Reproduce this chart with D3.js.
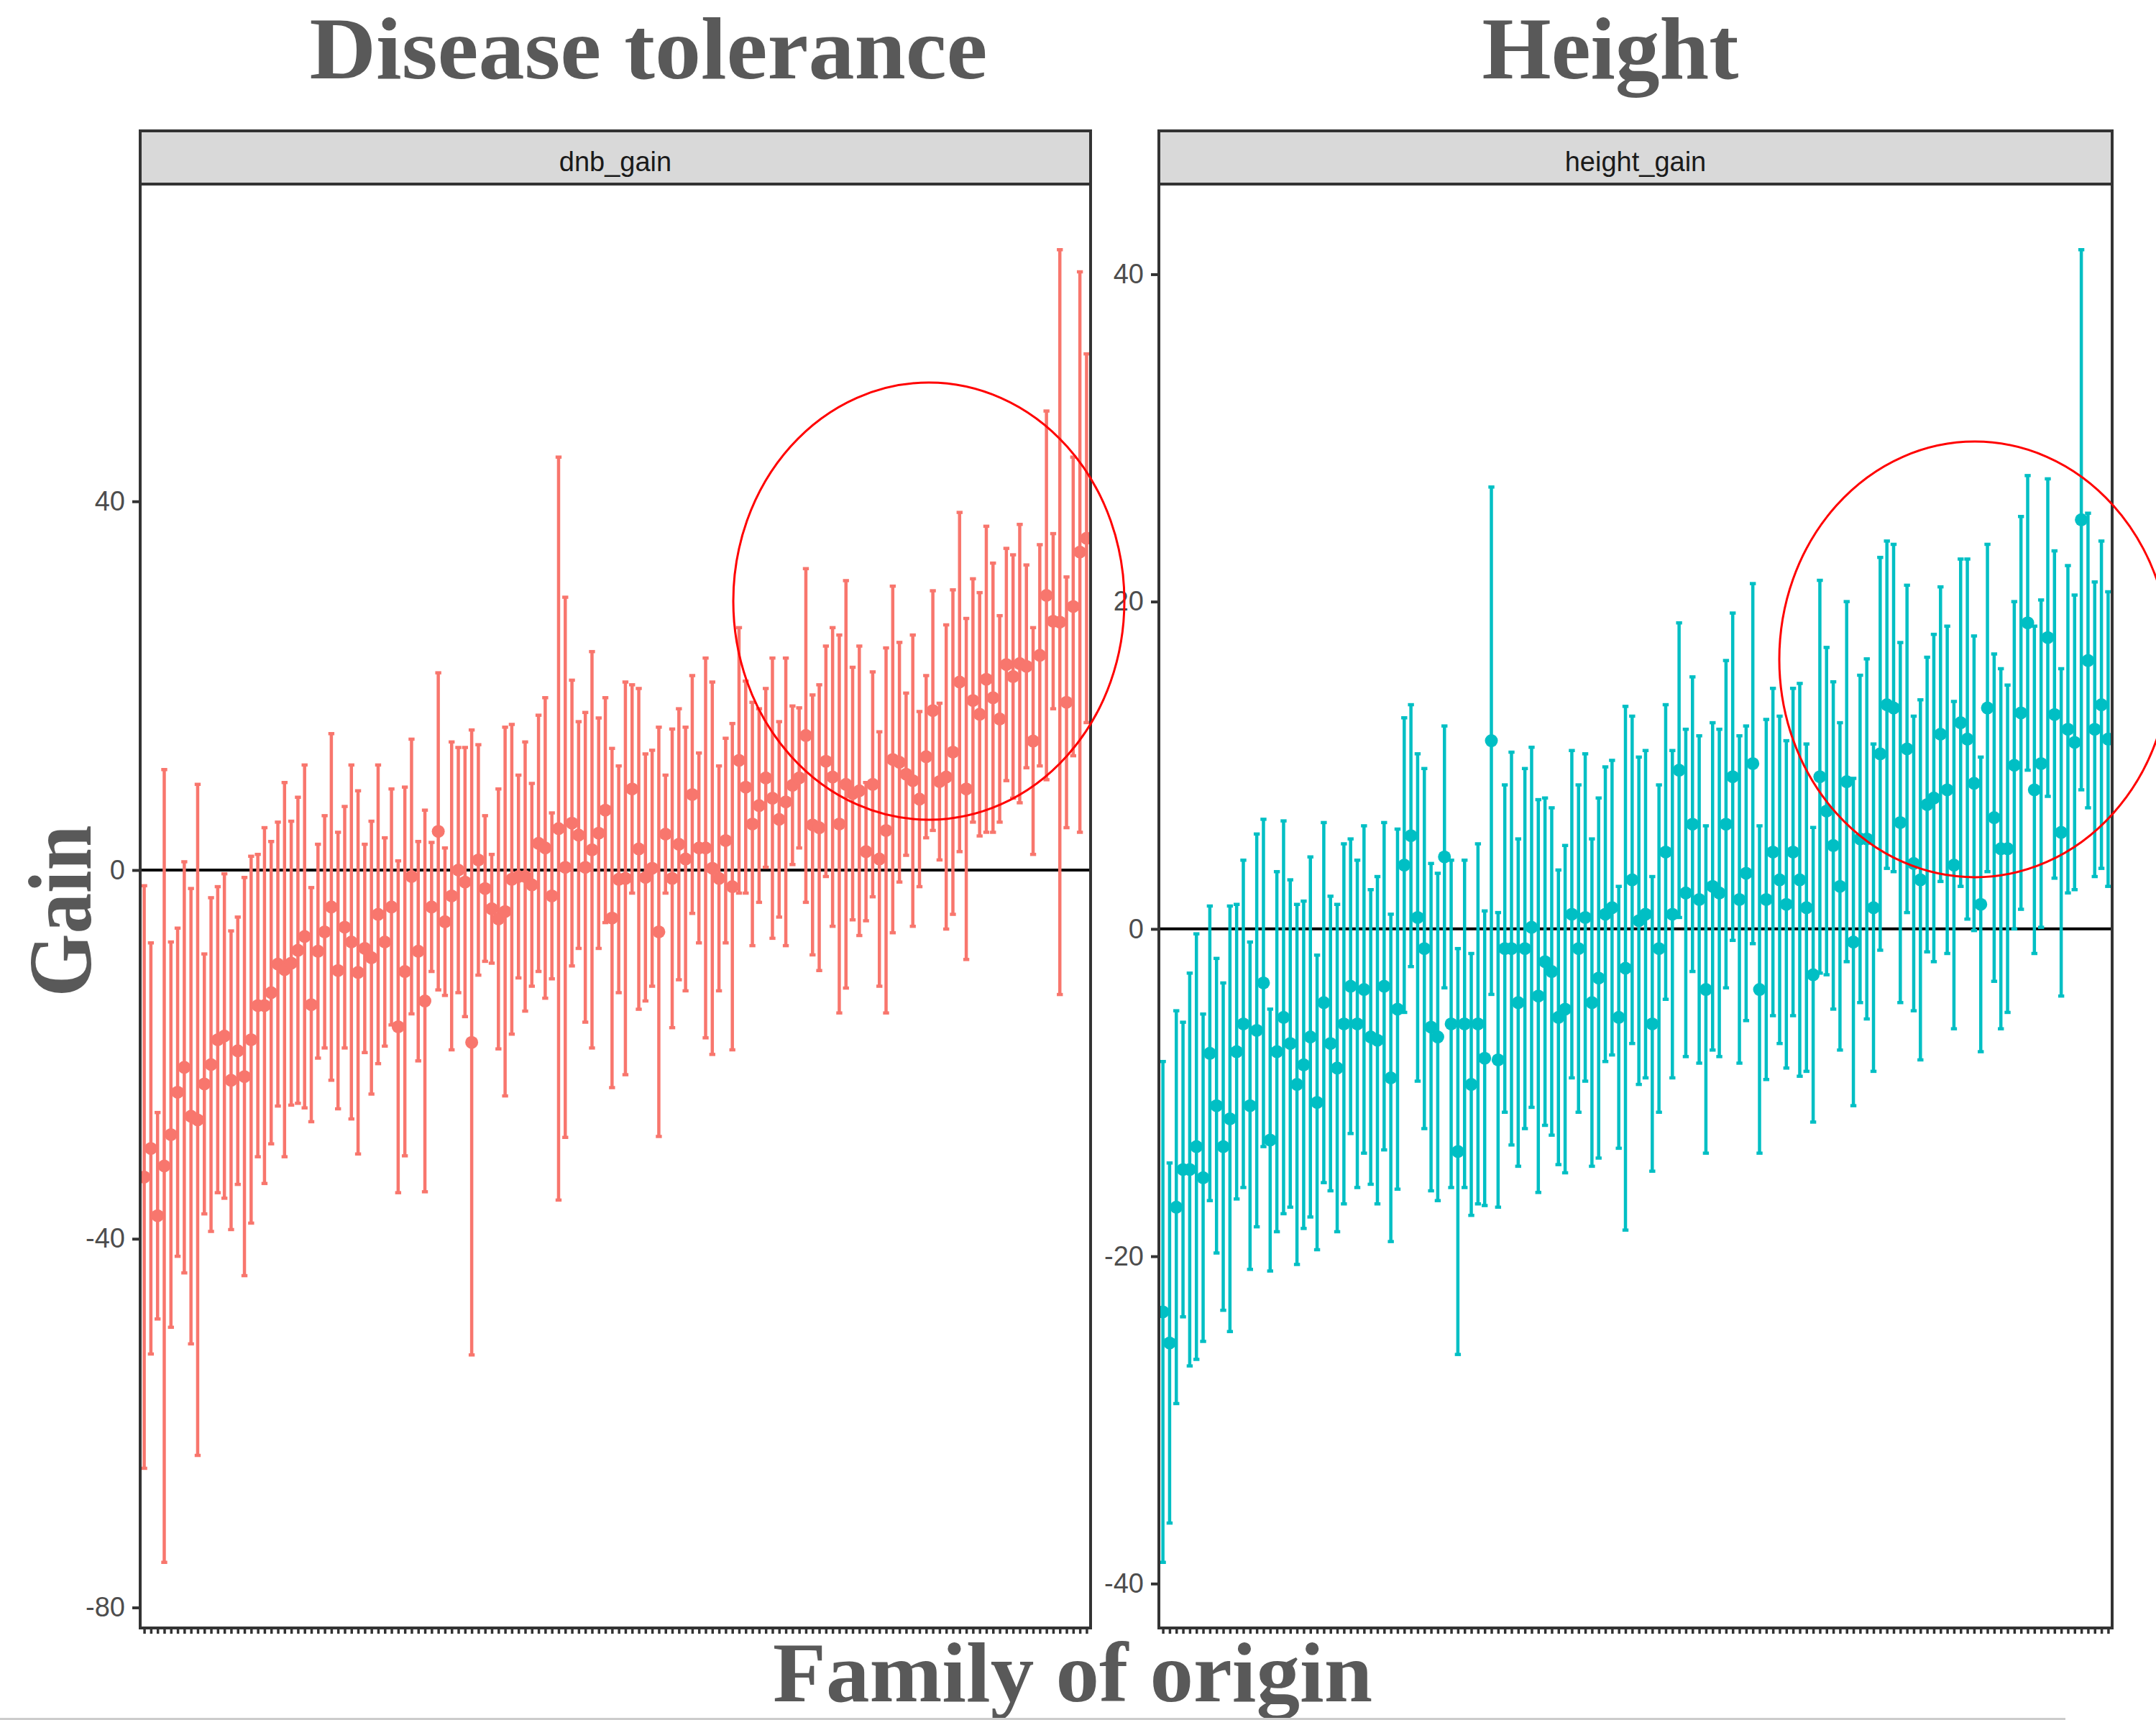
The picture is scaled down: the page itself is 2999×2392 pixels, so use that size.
<!doctype html>
<html>

<head>
    <meta charset="utf-8">
    <title>Gain by family of origin</title>
    <style>
    body {
        margin: 0;
        background: #fff;
    }

    svg {
        display: block;
    }

    .tick text {
        font-family: "Liberation Sans", Arial, sans-serif;
        font-size: 38px;
        fill: #4d4d4d;
    }

    .strip-label {
        font-family: "Liberation Sans", Arial, sans-serif;
        font-size: 38px;
        fill: #1a1a1a;
    }

    .big {
        font-family: "Liberation Serif", serif;
        font-weight: bold;
        fill: #595959;
    }
    </style>
    <script src="https://cdn.jsdelivr.net/npm/d3@7"></script>
</head>

<body>
    <svg width="2999" height="2392"></svg>
    <script>
    // family means and half-widths of the intervals
    var dnbMean = [
        -33.3, -30.2, -37.5, -32.1, -28.7, -24.1, -21.4, -26.7, -27.1, -23.2,
        -21.1, -18.4, -18.0, -22.8, -19.6, -22.4, -18.4, -14.7, -14.7, -13.3,
        -10.2, -10.8, -10.1, -8.7, -7.2, -14.6, -8.8, -6.7, -4.0, -10.9,
        -6.2, -7.8, -11.1, -8.5, -9.5, -4.8, -7.8, -4.0, -17.0, -11.0,
        -0.7, -8.8, -14.2, -4.0, 4.2, -5.6, -2.8, 0.0, -1.3, -18.7,
        1.1, -2.0, -4.2, -5.3, -4.5, -1.0, -0.7, -0.7, -1.6, 2.9,
        2.4, -2.8, 4.5, 0.3, 5.1, 3.8, 0.3, 2.2, 4.0, 6.5,
        -5.2, -1.0, -0.9, 8.8, 2.3, -0.8, 0.2, -6.7, 3.9, -0.9,
        2.8, 1.2, 8.2, 2.4, 2.4, 0.2, -0.9, 3.2, -1.8, 11.9,
        9.0, 5.0, 7.0, 10.0, 7.8, 5.5, 7.4, 9.2, 10.0, 14.6,
        4.9, 4.6, 11.8, 10.1, 5.0, 9.3, 8.3, 8.6, 2.0, 9.3,
        1.2, 4.3, 12.0, 11.7, 10.4, 9.7, 7.7, 12.3, 17.3, 9.6,
        10.1, 12.8, 20.4, 8.8, 18.4, 16.9, 20.7, 18.7, 16.4, 22.3,
        21.0, 22.4, 22.1, 14.0, 23.3, 29.8, 27.0, 26.9, 18.2, 28.6,
        34.5, 36.0
    ];
    var dnbHalf = [
        31.6, 22.3, 11.2, 43.0, 20.9, 17.8, 22.3, 24.7, 36.4, 14.1,
        18.1, 16.6, 17.6, 16.2, 14.5, 21.6, 19.9, 16.4, 19.3, 16.4,
        15.4, 20.3, 15.4, 16.6, 18.6, 12.7, 11.6, 12.6, 18.8, 15.0,
        13.1, 19.2, 19.7, 11.3, 14.8, 16.2, 11.3, 12.8, 18.0, 20.0,
        14.9, 11.9, 20.7, 7.0, 17.2, 8.0, 16.7, 13.3, 14.6, 33.9,
        12.5, 7.9, 5.9, 14.1, 20.0, 16.8, 11.0, 14.6, 11.0, 13.9,
        16.3, 9.0, 40.3, 29.3, 15.5, 12.3, 16.8, 21.5, 12.5, 12.2,
        18.4, 12.3, 21.3, 11.3, 17.4, 13.4, 12.8, 22.2, 6.4, 16.2,
        14.7, 14.3, 12.9, 10.3, 20.6, 20.2, 12.2, 11.1, 17.7, 14.4,
        11.5, 13.2, 10.5, 9.7, 15.2, 10.6, 15.6, 8.6, 7.6, 18.1,
        14.1, 15.5, 12.5, 16.2, 20.5, 22.1, 13.7, 15.7, 7.5, 12.2,
        13.8, 19.8, 18.8, 13.0, 8.8, 15.8, 9.5, 8.8, 13.0, 8.5,
        16.5, 17.6, 18.4, 18.5, 13.2, 13.2, 16.6, 14.6, 11.2, 12.6,
        13.2, 15.1, 11.0, 12.3, 12.0, 20.0, 9.5, 40.4, 13.6, 16.2,
        30.4, 20.0
    ];
    var heightMean = [
        -23.4, -25.3, -17.0, -14.7, -14.7, -13.3, -15.2, -7.6,
        -10.8, -13.3, -11.6, -7.5, -5.8, -10.8, -6.2, -3.3, -12.9,
        -7.5, -5.4, -7.0, -9.5, -8.3, -6.6, -10.6, -4.5,
        -7.0, -8.5, -5.8, -3.5, -5.8, -3.7, -6.6, -6.8,
        -3.5, -9.1, -4.9, 3.9, 5.7, 0.7, -1.2, -6.0,
        -6.6, 4.4, -5.8, -13.6, -5.8, -9.5, -5.8, -7.9, 11.5,
        -8.0, -1.2, -1.2, -4.5, -1.2, 0.1, -4.1, -2.0, -2.6,
        -5.4, -4.9, 0.9, -1.2, 0.7, -4.5, -3.0, 0.9,
        1.3, -5.4, -2.4, 3.0, 0.5, 0.9, -5.8, -1.2,
        4.7, 0.9, 9.7, 2.2, 6.4, 1.8, -3.7, 2.6,
        2.2, 6.4, 9.3, 1.8, 3.4, 10.1, -3.7, 1.8,
        4.7, 3.0, 1.5, 4.7, 3.0, 1.3, -2.8, 9.3,
        7.2, 5.1, 2.6, 9.0, -0.8, 5.5, 5.5, 1.3,
        10.7, 13.7, 13.5, 6.5, 11.0, 4.0, 3.0, 7.6,
        8.0, 11.9, 8.5, 3.9, 12.6, 11.6, 8.9, 1.5, 13.5,
        6.8, 4.9, 4.9, 10.0, 13.2, 18.7, 8.5, 10.1, 17.8, 13.1,
        5.9, 12.2, 11.4, 25.0, 16.4, 12.2, 13.7, 11.6
    ];
    var heightHalf = [
        15.3, 11, 12, 9, 12, 13, 10, 9,
        9, 10, 13, 9, 10, 10, 12, 10, 8,
        11, 12, 10, 11, 10, 11, 9, 11,
        9, 10, 11, 9, 10, 10, 9, 10,
        10, 10, 11, 9, 8, 10, 11, 10,
        10, 8, 10, 12.4, 10, 8, 11, 9, 15.5,
        9, 10, 12, 10, 11, 11, 12, 10, 10,
        9, 10, 10, 10, 10, 10, 11, 9,
        9, 8, 16, 10, 10, 10, 9, 10,
        9, 10, 9, 10, 9, 10, 10, 10,
        10, 10, 10, 10, 9, 11, 10, 11,
        10, 10, 10, 10, 12, 10, 9, 12,
        10, 10, 10, 11, 10, 10, 11, 10,
        12, 10, 10, 11, 10, 9, 11, 9,
        10, 9, 10, 10, 10, 11, 9, 9, 10,
        10, 11, 10, 10, 12, 9, 10, 10, 9.7, 10,
        10, 10, 9, 16.5, 9, 9, 10, 9
    ];
    var dnbTicks = [-80, -40, 0, 40];
    var heightTicks = [-40, -20, 0, 20, 40];

    var svg = d3.select("svg"),
        stripTop = 182,
        plotTop = 256,
        plotBottom = 2264;

    var panels = [
        { id: "p1", strip: "dnb_gain", mean: dnbMean, half: dnbHalf, ticks: dnbTicks, color: "#F8766D", x0: 195, x1: 1517 },
        { id: "p2", strip: "height_gain", mean: heightMean, half: heightHalf, ticks: heightTicks, color: "#00BFC4", x0: 1612, x1: 2938 }
    ];

    panels.forEach(function(p) {
        var rows = p.mean.map(function(m, i) { return { i: i, m: m, lo: m - p.half[i], hi: m + p.half[i] }; });

        var x = d3.scalePoint()
            .domain(d3.range(rows.length))
            .range([p.x0, p.x1])
            .padding(0.6);

        var lo = d3.min(rows, function(d) { return d.lo; }),
            hi = d3.max(rows, function(d) { return d.hi; }),
            pad = (hi - lo) * 0.05;
        var y = d3.scaleLinear()
            .domain([lo - pad, hi + pad])
            .range([plotBottom, plotTop]);

        svg.append("clipPath").attr("id", "clip-" + p.id)
            .append("rect")
            .attr("x", p.x0).attr("y", plotTop)
            .attr("width", p.x1 - p.x0).attr("height", plotBottom - plotTop);

        var g = svg.append("g");

        var plot = g.append("g").attr("clip-path", "url(#clip-" + p.id + ")");

        plot.append("line")
            .attr("x1", p.x0).attr("x2", p.x1)
            .attr("y1", y(0)).attr("y2", y(0))
            .attr("stroke", "#000").attr("stroke-width", 4);

        var cap = x.step() * 0.9 / 2;

        var bars = plot.selectAll(".bar")
            .data(rows)
            .enter().append("g")
            .attr("class", "bar")
            .attr("stroke", p.color)
            .attr("stroke-width", 4.5);
        bars.append("line")
            .attr("x1", function(d) { return x(d.i); })
            .attr("x2", function(d) { return x(d.i); })
            .attr("y1", function(d) { return y(d.lo); })
            .attr("y2", function(d) { return y(d.hi); });
        bars.append("line")
            .attr("x1", function(d) { return x(d.i) - cap; })
            .attr("x2", function(d) { return x(d.i) + cap; })
            .attr("y1", function(d) { return y(d.lo); })
            .attr("y2", function(d) { return y(d.lo); });
        bars.append("line")
            .attr("x1", function(d) { return x(d.i) - cap; })
            .attr("x2", function(d) { return x(d.i) + cap; })
            .attr("y1", function(d) { return y(d.hi); })
            .attr("y2", function(d) { return y(d.hi); });

        plot.selectAll(".pt")
            .data(rows)
            .enter().append("circle")
            .attr("class", "pt")
            .attr("cx", function(d) { return x(d.i); })
            .attr("cy", function(d) { return y(d.m); })
            .attr("r", 9)
            .attr("fill", p.color);

        // panel border
        g.append("rect")
            .attr("x", p.x0).attr("y", plotTop)
            .attr("width", p.x1 - p.x0).attr("height", plotBottom - plotTop)
            .attr("fill", "none").attr("stroke", "#333").attr("stroke-width", 4);

        // strip
        g.append("rect")
            .attr("x", p.x0).attr("y", stripTop)
            .attr("width", p.x1 - p.x0).attr("height", plotTop - stripTop)
            .attr("fill", "#d9d9d9").attr("stroke", "#333").attr("stroke-width", 4);
        g.append("text")
            .attr("class", "strip-label")
            .attr("x", (p.x0 + p.x1) / 2).attr("y", 238)
            .attr("text-anchor", "middle")
            .text(p.strip);

        // axes (plain hyphen for negatives, as in the source)
        var ya = g.append("g")
            .attr("transform", "translate(" + (p.x0 - 2) + ",0)")
            .call(d3.axisLeft(y).tickValues(p.ticks).tickSize(9).tickPadding(10)
                .tickFormat(function(d) { return String(d); }));
        ya.select(".domain").remove();
        ya.selectAll(".tick line").attr("stroke", "#333").attr("stroke-width", 4);

        var xa = g.append("g")
            .attr("transform", "translate(0," + (plotBottom + 2) + ")")
            .call(d3.axisBottom(x).tickSize(6).tickFormat(""));
        xa.select(".domain").remove();
        xa.selectAll(".tick line").attr("stroke", "#333").attr("stroke-width", 3.5);
    });

    // big titles
    svg.append("text").attr("class", "big")
        .attr("x", 902).attr("y", 109).attr("text-anchor", "middle")
        .attr("font-size", 122).attr("textLength", 943).attr("lengthAdjust", "spacingAndGlyphs")
        .text("Disease tolerance");
    svg.append("text").attr("class", "big")
        .attr("x", 2240).attr("y", 109).attr("text-anchor", "middle")
        .attr("font-size", 122).attr("textLength", 357).attr("lengthAdjust", "spacingAndGlyphs")
        .text("Height");
    svg.append("text").attr("class", "big")
        .attr("x", 1492).attr("y", 2366).attr("text-anchor", "middle")
        .attr("font-size", 118).attr("textLength", 834).attr("lengthAdjust", "spacingAndGlyphs")
        .text("Family of origin");
    svg.append("text").attr("class", "big")
        .attr("transform", "translate(126,1267) rotate(-90)")
        .attr("text-anchor", "middle")
        .attr("font-size", 124).attr("textLength", 239).attr("lengthAdjust", "spacingAndGlyphs")
        .text("Gain");

    // hand-drawn highlight rings
    svg.append("ellipse")
        .attr("cx", 1292).attr("cy", 836).attr("rx", 272).attr("ry", 304)
        .attr("fill", "none").attr("stroke", "#ff0000").attr("stroke-width", 3);
    svg.append("ellipse")
        .attr("cx", 2747).attr("cy", 917).attr("rx", 272).attr("ry", 303)
        .attr("fill", "none").attr("stroke", "#ff0000").attr("stroke-width", 3);

    // faint rule at the very bottom
    svg.append("rect")
        .attr("x", 0).attr("y", 2389).attr("width", 2873).attr("height", 3)
        .attr("fill", "#cccccc");
    </script>
</body>

</html>
